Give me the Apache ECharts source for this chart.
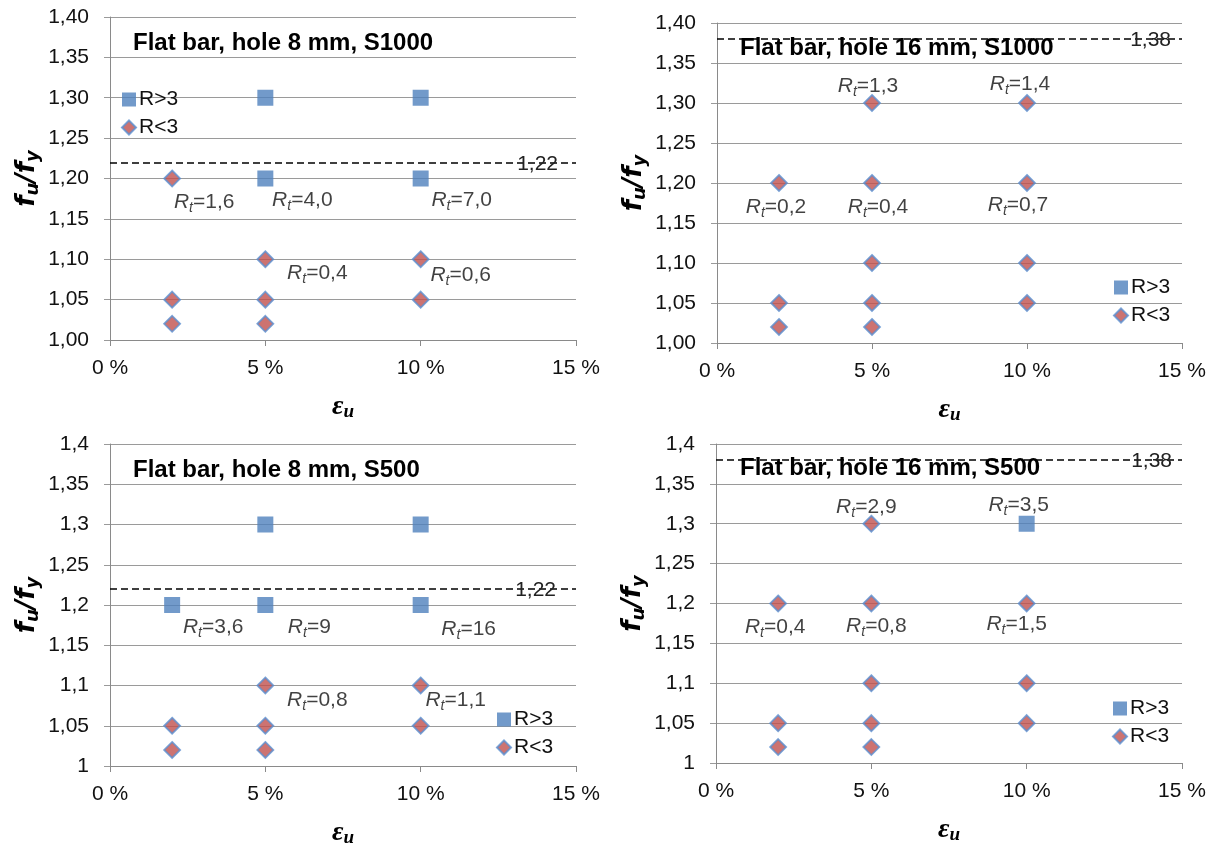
<!DOCTYPE html>
<html>
<head>
<meta charset="utf-8">
<script src="https://cdn.jsdelivr.net/npm/echarts@6/dist/echarts.min.js"></script>
<style>
  html, body { margin: 0; padding: 0; background: #fff; }
  #chart { width: 1215px; height: 849px; }
</style>
</head>
<body>
<div id="chart"></div>
<script>
// f_u/f_y against uniform strain eps_u for perforated flat bars.
// Squares: R > 3, diamonds: R < 3, dashed line: required ratio.

// Hole 8 mm, S1000
const sq8S1000 = [[5, 1.30], [10, 1.30], [5, 1.20], [10, 1.20]];
const di8S1000 = [[2, 1.20], [5, 1.10], [10, 1.10], [2, 1.05], [5, 1.05], [10, 1.05], [2, 1.02], [5, 1.02]];
const rt8S1000 = [[2, 1.20, '1,6'], [5, 1.20, '4,0'], [10, 1.20, '7,0'], [5, 1.10, '0,4'], [10, 1.10, '0,6']];
const limit8S1000 = 1.22;

// Hole 16 mm, S1000
const sq16S1000 = [];
const di16S1000 = [[5, 1.30], [10, 1.30], [2, 1.20], [5, 1.20], [10, 1.20], [5, 1.10], [10, 1.10],
                   [2, 1.05], [5, 1.05], [10, 1.05], [2, 1.02], [5, 1.02]];
const rt16S1000 = [[5, 1.30, '1,3'], [10, 1.30, '1,4'], [2, 1.20, '0,2'], [5, 1.20, '0,4'], [10, 1.20, '0,7']];
const limit16S1000 = 1.38;

// Hole 8 mm, S500
const sq8S500 = [[5, 1.3], [10, 1.3], [2, 1.2], [5, 1.2], [10, 1.2]];
const di8S500 = [[5, 1.1], [10, 1.1], [2, 1.05], [5, 1.05], [10, 1.05], [2, 1.02], [5, 1.02]];
const rt8S500 = [[2, 1.2, '3,6'], [5, 1.2, '9'], [10, 1.2, '16'], [5, 1.1, '0,8'], [10, 1.1, '1,1']];
const limit8S500 = 1.22;

// Hole 16 mm, S500
const sq16S500 = [[10, 1.3]];
const di16S500 = [[5, 1.3], [2, 1.2], [5, 1.2], [10, 1.2], [5, 1.1], [10, 1.1],
                  [2, 1.05], [5, 1.05], [10, 1.05], [2, 1.02], [5, 1.02]];
const rt16S500 = [[5, 1.3, '2,9'], [10, 1.3, '3,5'], [2, 1.2, '0,4'], [5, 1.2, '0,8'], [10, 1.2, '1,5']];
const limit16S500 = 1.38;

const panelTitles = ['Flat bar, hole 8 mm, S1000', 'Flat bar, hole 16 mm, S1000',
                     'Flat bar, hole 8 mm, S500', 'Flat bar, hole 16 mm, S500'];
const seriesNames = ['R>3', 'R<3'];

// Axis ranges
const xMin = 0, xMax = 15, xStep = 5;
const yMin = 1, yMax = 1.4, yStep = 0.05;

// ---- layout (pixels) ----
const FONT = "'Liberation Sans', Arial, sans-serif";
const layout = [
  { grid: { left: 110, top: 17, width: 466, height: 323 }, title: [133, 31], legend: [121, 89],
    yDecimals: 'fixed', limitDist: [18, -12],
    rtOffsets: [[32, 24], [37, 22], [41, 22], [52, 14], [40, 16]] },
  { grid: { left: 717, top: 23, width: 465, height: 320 }, title: [740, 36], legend: [1113, 277],
    yDecimals: 'fixed', limitDist: [11, -12],
    rtOffsets: [[-4, -17], [-7, -19], [-3, 24], [6, 24], [-9, 22]] },
  { grid: { left: 110, top: 444, width: 466, height: 323 }, title: [133, 458], legend: [496, 709],
    yDecimals: 'trim', limitDist: [20, -12],
    rtOffsets: [[41, 22], [44, 22], [48, 24], [52, 15], [35, 15]] },
  { grid: { left: 716, top: 444, width: 466, height: 319 }, title: [740, 456], legend: [1112, 698],
    yDecimals: 'trim', limitDist: [10, -12],
    rtOffsets: [[-5, -17], [-8, -19], [-3, 24], [5, 23], [-10, 21]] }
];

const panelData = [
  { sq: sq8S1000, di: di8S1000, rt: rt8S1000, limit: limit8S1000 },
  { sq: sq16S1000, di: di16S1000, rt: rt16S1000, limit: limit16S1000 },
  { sq: sq8S500, di: di8S500, rt: rt8S500, limit: limit8S500 },
  { sq: sq16S500, di: di16S500, rt: rt16S500, limit: limit16S500 }
];

const BLUE = '#4F81BD';
const RED = '#C0504D';
const GRID_GREY = '#9a9a9a';
const TEXT = '#111';

const comma = s => s.replace('.', ',');
const fmtFixed = v => comma(v.toFixed(2));
const fmtTrim = v => comma(String(parseFloat(v.toFixed(2))));

const rtRich = {
  r: { fontFamily: FONT, fontSize: 21, fontStyle: 'italic', color: TEXT, lineHeight: 26 },
  s: { fontFamily: FONT, fontSize: 14, fontStyle: 'italic', color: TEXT, lineHeight: 14, verticalAlign: 'bottom' },
  n: { fontFamily: FONT, fontSize: 21, color: TEXT, lineHeight: 26 }
};

const yNameRich = {
  f: { fontFamily: "'DejaVu Sans', sans-serif", fontSize: 26, fontWeight: 'bold', fontStyle: 'italic', color: '#000', lineHeight: 30 },
  s: { fontFamily: "'DejaVu Sans', sans-serif", fontSize: 18, fontWeight: 'bold', fontStyle: 'italic', color: '#000', lineHeight: 17, verticalAlign: 'bottom' }
};
const xNameRich = {
  e: { fontFamily: "'Liberation Serif', serif", fontSize: 28, fontWeight: 'bold', fontStyle: 'italic', color: '#000', lineHeight: 30 },
  s: { fontFamily: "'Liberation Serif', serif", fontSize: 19, fontWeight: 'bold', fontStyle: 'italic', color: '#000', lineHeight: 17, verticalAlign: 'bottom' }
};

const grids = [], xAxes = [], yAxes = [], series = [], titles = [], legends = [];

layout.forEach((L, i) => {
  const D = panelData[i];
  grids.push(Object.assign({ containLabel: false }, L.grid));

  xAxes.push({
    gridIndex: i, type: 'value', min: xMin, max: xMax, interval: xStep,
    axisLine: { show: true, lineStyle: { color: '#8a8a8a', width: 1 } },
    axisTick: { show: true, length: 6, lineStyle: { color: '#8a8a8a' } },
    splitLine: { show: false },
    axisLabel: { formatter: v => v + ' %', fontFamily: FONT, fontSize: 21, color: TEXT, margin: 18 },
    name: '{e|ε}{s|u}', nameLocation: 'middle', nameGap: 52,
    nameTextStyle: { rich: xNameRich }
  });

  yAxes.push({
    gridIndex: i, type: 'value', min: yMin, max: yMax, interval: yStep,
    axisLine: { show: true, lineStyle: { color: '#8a8a8a', width: 1 } },
    axisTick: { show: true, length: 6, lineStyle: { color: GRID_GREY } },
    splitLine: { show: true, lineStyle: { color: GRID_GREY, width: 1 } },
    axisLabel: { formatter: L.yDecimals === 'fixed' ? fmtFixed : fmtTrim,
                 fontFamily: FONT, fontSize: 21, color: TEXT, margin: 21 },
    name: '{f|f}{s|u}{f|/f}{s|y}', nameLocation: 'middle', nameRotate: 90, nameGap: 68,
    nameTextStyle: { rich: yNameRich }
  });

  series.push({
    name: seriesNames[0], type: 'scatter', xAxisIndex: i, yAxisIndex: i,
    symbol: 'rect', symbolSize: 16, itemStyle: { color: BLUE },
    data: D.sq, z: 3
  });

  series.push({
    name: seriesNames[1], type: 'scatter', xAxisIndex: i, yAxisIndex: i,
    symbol: 'diamond', symbolSize: 16,
    itemStyle: { color: RED, borderColor: '#5a8fd0', borderWidth: 1.8 },
    data: D.di, z: 3,
    markLine: {
      silent: true, symbol: 'none',
      lineStyle: { color: '#000', type: [7, 4], width: 1.5 },
      label: {
        show: true, position: 'insideEndTop', distance: L.limitDist,
        formatter: p => fmtFixed(p.value), fontFamily: FONT, fontSize: 21, color: '#222'
      },
      data: [{ yAxis: D.limit }]
    }
  });

  series.push({
    name: 'Rt', type: 'scatter', xAxisIndex: i, yAxisIndex: i,
    symbol: 'circle', symbolSize: 0.1, silent: true, z: 5,
    itemStyle: { color: 'rgba(0,0,0,0)' },
    data: D.rt.map((r, k) => ({
      value: [r[0], r[1]],
      label: {
        show: true, position: 'inside', offset: L.rtOffsets[k],
        formatter: '{r|R}{s|t}{n|=' + r[2] + '}', rich: rtRich
      }
    }))
  });

  titles.push({
    text: panelTitles[i], left: L.title[0], top: L.title[1], padding: 0,
    textStyle: { fontFamily: FONT, fontSize: 24, fontWeight: 'bold', color: '#000', lineHeight: 24 }
  });

  legends.push({
    left: L.legend[0], top: L.legend[1], orient: 'vertical', padding: 0,
    itemWidth: 14, itemHeight: 14, itemGap: 7, selectedMode: false,
    textStyle: { fontFamily: FONT, fontSize: 21, color: TEXT, lineHeight: 21, padding: [0, 0, 0, -2] },
    data: [{ name: seriesNames[0], icon: 'rect' }, { name: seriesNames[1], icon: 'diamond' }]
  });
});

const chart = echarts.init(document.getElementById('chart'), null, { renderer: 'canvas' });
chart.setOption({
  backgroundColor: '#fff',
  animation: false,
  title: titles,
  legend: legends,
  grid: grids,
  xAxis: xAxes,
  yAxis: yAxes,
  series: series
});
</script>
</body>
</html>
